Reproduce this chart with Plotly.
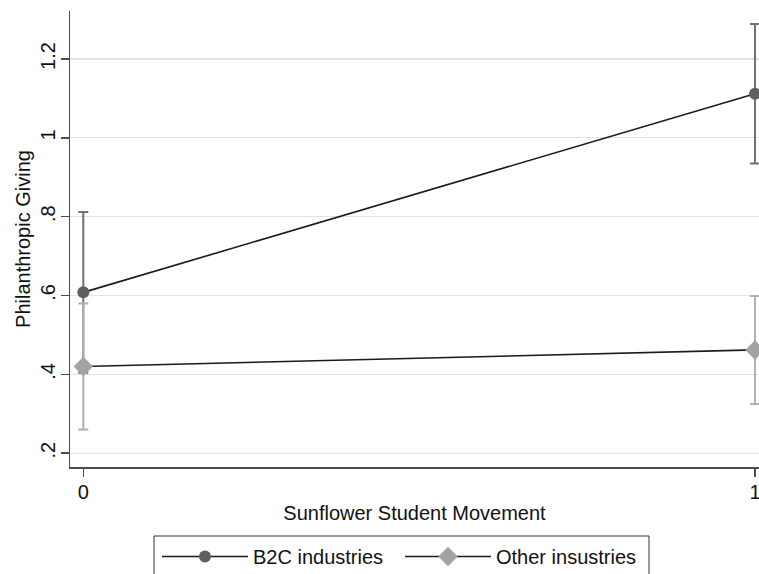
import plotly.graph_objects as go

x_vals = [0, 1]
b2c_mean = [0.608, 1.112]
b2c_ci = [0.204, 0.177]
other_mean = [0.420, 0.462]
other_ci = [0.160, 0.137]
y_ticks = [0.2, 0.4, 0.6, 0.8, 1.0, 1.2]
y_tick_labels = [".2", ".4", ".6", ".8", "1", "1.2"]
x_ticks = [0, 1]
x_tick_labels = ["0", "1"]

FONT = "Liberation Sans, Arial, sans-serif"

# plot area geometry in pixels (for converting legend frame to paper coords)
PL, PR, PT, PB = 70, 759, 11, 467


def px_x(px):
    return (px - PL) / (PR - PL)


def px_y(py):
    return (PB - py) / (PB - PT)


fig = go.Figure()
fig.add_trace(go.Scatter(
    x=x_vals, y=b2c_mean, mode="lines+markers", name="B2C industries",
    line=dict(color="#1a1a1a", width=1.6),
    marker=dict(symbol="circle", size=12, color="#5f5f5f"),
    error_y=dict(type="data", array=b2c_ci, visible=True, color="#707070",
                 thickness=2, width=5),
))
fig.add_trace(go.Scatter(
    x=x_vals, y=other_mean, mode="lines+markers", name="Other insustries",
    line=dict(color="#1a1a1a", width=1.6),
    marker=dict(symbol="diamond", size=15, color="#a3a3a3"),
    error_y=dict(type="data", array=other_ci, visible=True, color="#b0b0b0",
                 thickness=2, width=5),
))

# legend frame
fig.add_shape(type="rect", xref="paper", yref="paper",
              x0=px_x(154), x1=px_x(649), y0=px_y(590), y1=px_y(536),
              line=dict(color="#333333", width=1), fillcolor="rgba(0,0,0,0)")

fig.update_layout(
    width=759, height=574,
    margin=dict(l=PL, r=759 - PR, t=PT, b=574 - PB, autoexpand=False),
    paper_bgcolor="white", plot_bgcolor="white",
    font=dict(family=FONT, size=20, color="#111111"),
    showlegend=True,
    hovermode=False,
    legend=dict(
        orientation="h", x=px_x(157), xanchor="left", y=px_y(537), yanchor="top",
        borderwidth=0, bgcolor="rgba(0,0,0,0)",
        font=dict(family=FONT, size=20, color="#111111"),
        itemwidth=86, entrywidth=142, entrywidthmode="pixels",
        tracegroupgap=0,
    ),
    xaxis=dict(
        range=[-0.0198, 1.006], tickvals=x_ticks, ticktext=x_tick_labels,
        showgrid=False, zeroline=False, showline=True, linecolor="#4d4d4d",
        linewidth=1.5, ticks="outside", ticklen=8, tickcolor="#4d4d4d",
        tickwidth=1.5, ticklabelstandoff=-2, ticklabeloverflow="allow",
        title=dict(text="Sunflower Student Movement", standoff=4,
                   font=dict(size=20)),
    ),
    yaxis=dict(
        range=[0.165, 1.3217], tickvals=y_ticks, ticktext=y_tick_labels,
        tickangle=-90, showgrid=True, gridcolor="#e3e3e3", gridwidth=1.2,
        zeroline=False, showline=True, linecolor="#4d4d4d", linewidth=1.5,
        ticks="outside", ticklen=8, tickcolor="#4d4d4d", tickwidth=1.5,
        ticklabelstandoff=-2, ticklabeloverflow="allow",
        title=dict(text="Philanthropic Giving", standoff=0,
                   font=dict(size=20)),
    ),
)

fig.write_html(
    "out.html",
    config={"displayModeBar": False, "staticPlot": True},
    post_script="document.body.style.margin='0';document.body.style.overflow='hidden';",
)
